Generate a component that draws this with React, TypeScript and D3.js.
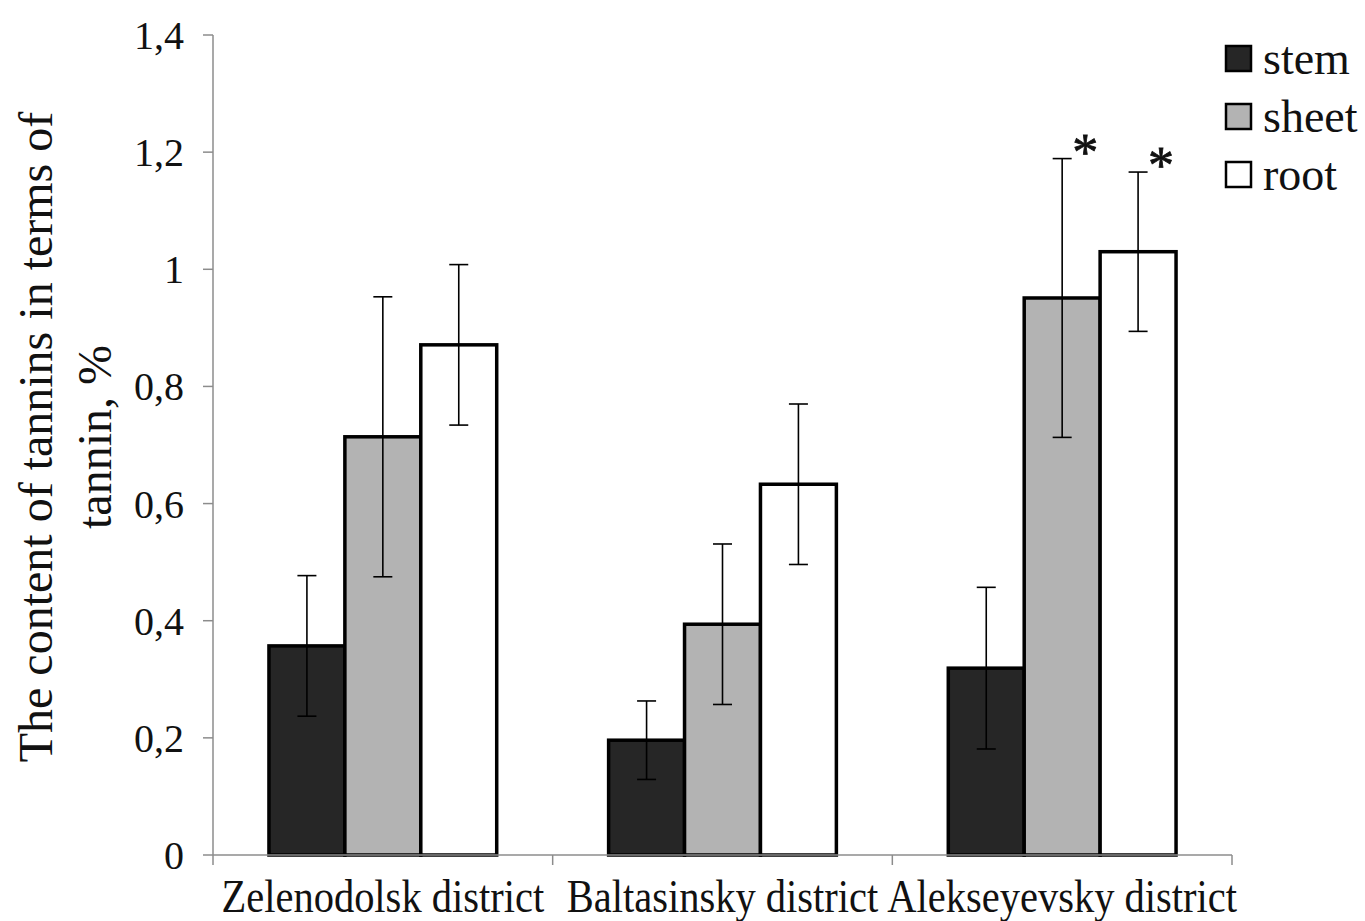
import { useMemo } from "react";
import * as d3 from "d3";

// districts on the x axis
const districts = ["Zelenodolsk district", "Baltasinsky district", "Alekseyevsky district"];
const parts = ["stem", "sheet", "root"];

// tannin content, % (means and error half-widths)
const stemValues = [0.357, 0.196, 0.319];
const sheetValues = [0.714, 0.394, 0.951];
const rootValues = [0.871, 0.633, 1.03];
const stemErrors = [0.12, 0.067, 0.138];
const sheetErrors = [0.239, 0.137, 0.238];
const rootErrors = [0.137, 0.137, 0.136];

// significance marks: [district, part]
const starred = [["Alekseyevsky district", "sheet"], ["Alekseyevsky district", "root"]];

const yTicks = [0, 0.2, 0.4, 0.6, 0.8, 1, 1.2, 1.4];
const yTickLabels = ["0", "0,2", "0,4", "0,6", "0,8", "1", "1,2", "1,4"];

const fills = { stem: "#262626", sheet: "#b3b3b3", root: "#ffffff" };
const FONT = '"Liberation Serif", "Times New Roman", Times, "DejaVu Serif", serif';
const AXIS = "#8c8c8c";

export default function App() {
  const width = 1365;
  const height = 921;
  const left = 213, right = 1232, top = 35, bottom = 855;

  const x0 = useMemo(() => d3.scaleBand().domain(districts).range([left, right]).paddingInner(0).paddingOuter(0), []);
  const x1 = useMemo(() => d3.scaleBand().domain(parts).range([0, x0.bandwidth()]).paddingInner(0).paddingOuter(0.737), [x0]);
  const y = useMemo(() => d3.scaleLinear().domain([0, 1.4]).range([bottom, top]), []);

  const rows = districts.flatMap((d, i) => [
    { district: d, part: "stem", value: stemValues[i], err: stemErrors[i] },
    { district: d, part: "sheet", value: sheetValues[i], err: sheetErrors[i] },
    { district: d, part: "root", value: rootValues[i], err: rootErrors[i] },
  ]);

  const capHalf = 9.5;
  const boundaries = [left, ...districts.map(d => x0(d)! + x0.bandwidth())];

  return (
    <svg width={width} height={height} style={{ position: "absolute", left: 0, top: 0, background: "#fff", fontFamily: FONT }}>
      {/* y axis */}
      <line x1={left} x2={left} y1={top} y2={bottom} stroke={AXIS} strokeWidth={1.5} />
      {yTicks.map((t, i) => (
        <g key={t}>
          <line x1={left - 10} x2={left} y1={y(t)} y2={y(t)} stroke={AXIS} strokeWidth={1.5} />
          <text x={184} y={y(t)} dy="0.35em" textAnchor="end" fontSize={40} fill="#111">{yTickLabels[i]}</text>
        </g>
      ))}

      {/* bars */}
      {rows.map(r => {
        const bx = x0(r.district)! + x1(r.part)!;
        return (
          <rect key={r.district + r.part} x={bx} y={y(r.value)} width={x1.bandwidth()} height={bottom - y(r.value)}
            fill={fills[r.part as keyof typeof fills]} stroke="#000" strokeWidth={3.5} />
        );
      })}

      {/* x axis */}
      <line x1={left} x2={right} y1={bottom} y2={bottom} stroke={AXIS} strokeWidth={1.5} />
      {boundaries.map(b => (
        <line key={b} x1={b} x2={b} y1={bottom} y2={bottom + 10} stroke={AXIS} strokeWidth={1.5} />
      ))}

      {/* error bars */}
      {rows.map(r => {
        const cx = x0(r.district)! + x1(r.part)! + x1.bandwidth() / 2;
        const hi = y(r.value + r.err), lo = y(r.value - r.err);
        return (
          <g key={"e" + r.district + r.part} stroke="#000" strokeWidth={1.6}>
            <line x1={cx} x2={cx} y1={hi} y2={lo} />
            <line x1={cx - capHalf} x2={cx + capHalf} y1={hi} y2={hi} />
            <line x1={cx - capHalf} x2={cx + capHalf} y1={lo} y2={lo} />
          </g>
        );
      })}

      {/* significance stars */}
      {starred.map(([d, p]) => {
        const r = rows.find(q => q.district === d && q.part === p)!;
        const cx = x0(d)! + x1(p)! + x1.bandwidth() / 2;
        return (
          <text key={"s" + d + p} x={cx + 23} y={y(r.value + r.err) + 11} textAnchor="middle" fontSize={52}
            fill="#111" stroke="#111" strokeWidth={0.8}>*</text>
        );
      })}

      {/* x labels */}
      {districts.map(d => (
        <g key={d} transform={`translate(${x0(d)! + x0.bandwidth() / 2}, 912) scale(1, 1.15)`}>
          <text x={0} y={0} textAnchor="middle" fontSize={40.5} fill="#111">{d}</text>
        </g>
      ))}

      {/* y title */}
      <g transform="translate(52, 437) rotate(-90)">
        <text x={0} y={0} textAnchor="middle" fontSize={48} fill="#111">The content of tannins in terms of</text>
        <text x={0} y={59} textAnchor="middle" fontSize={48} fill="#111">tannin, %</text>
      </g>

      {/* legend */}
      {parts.map((p, i) => (
        <g key={p} transform={`translate(1225, ${45 + i * 58})`}>
          <rect x={1} y={1} width={25} height={25} fill={fills[p as keyof typeof fills]} stroke="#000" strokeWidth={2.5} />
          <text x={38} y={29} fontSize={46} fill="#111">{p}</text>
        </g>
      ))}
    </svg>
  );
}
